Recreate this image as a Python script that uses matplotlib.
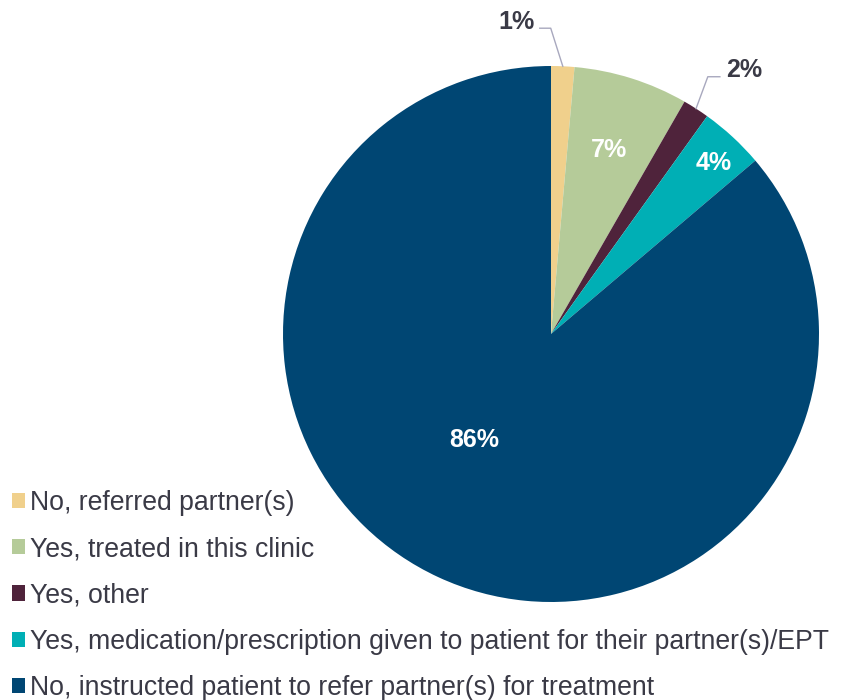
import numpy as np
import matplotlib
matplotlib.use("Agg")
import matplotlib.pyplot as plt
from matplotlib.patches import Patch

categories = ["No, referred partner(s)",
              "Yes, treated in this clinic",
              "Yes, other",
              "Yes, medication/prescription given to patient for their partner(s)/EPT",
              "No, instructed patient to refer partner(s) for treatment"]
values = [1.4, 6.9, 1.6, 3.9, 86.2]
value_labels = ["1%", "7%", "2%", "4%", "86%"]
colors = ["#F0D08C", "#B5CB99", "#4F233B", "#00AFB5", "#004673"]

plt.rcParams['font.family'] = ['Liberation Sans', 'DejaVu Sans']
fig = plt.figure(figsize=(8.46, 7.0), dpi=100)
ax = fig.add_axes([283/846, 98/700, 536/846, 536/700])
wedges, _ = ax.pie(values, colors=colors, startangle=90, counterclock=False,
                   radius=1.0, wedgeprops=dict(linewidth=0))
ax.set_xlim(-1, 1); ax.set_ylim(-1, 1)
ax.set_aspect('equal')
ax.axis('off')

txt_dark = "#3A3A46"
lead = "#A8A8BE"
lab_fs = 18
# inside labels
inside = {1: (0.72, 0), 3: (0.88, -1), 4: (0.49, -11)}
for i, (r, dang) in inside.items():
    w = wedges[i]
    ang = np.deg2rad((w.theta1 + w.theta2) / 2 + dang)
    ax.text(r*np.cos(ang), r*np.sin(ang), value_labels[i], color="white",
            fontsize=lab_fs, fontweight="bold", ha="center", va="center")

# outside labels with leader lines
def outside(i, elbow_dxdy, seg, text_off):
    w = wedges[i]
    ang = np.deg2rad((w.theta1 + w.theta2) / 2)
    x0, y0 = np.cos(ang), np.sin(ang)
    x1, y1 = x0 + elbow_dxdy[0], y0 + elbow_dxdy[1]
    x2 = x1 + seg
    ax.plot([x0, x1, x2], [y0, y1, y1], color=lead, lw=1.0, clip_on=False)
    ax.text(x2 + text_off, y1 + 0.025, value_labels[i], color=txt_dark,
            fontsize=lab_fs, fontweight="bold",
            ha="right" if seg < 0 else "left", va="center")

outside(0, (-0.045, 0.142), -0.041, -0.02)
outside(2, (0.044, 0.119), 0.045, 0.025)

handles = [Patch(facecolor=c, edgecolor='none') for c in colors]
fig.legend(handles, categories, loc="upper left", bbox_to_anchor=(12/846, 1 - 490/700),
           frameon=False, fontsize=19.2, handlelength=0.5, handleheight=0.5,
           handletextpad=0.19, labelspacing=0.76, borderaxespad=0, borderpad=0,
           labelcolor=txt_dark)

fig.savefig("out.png", dpi=100)
